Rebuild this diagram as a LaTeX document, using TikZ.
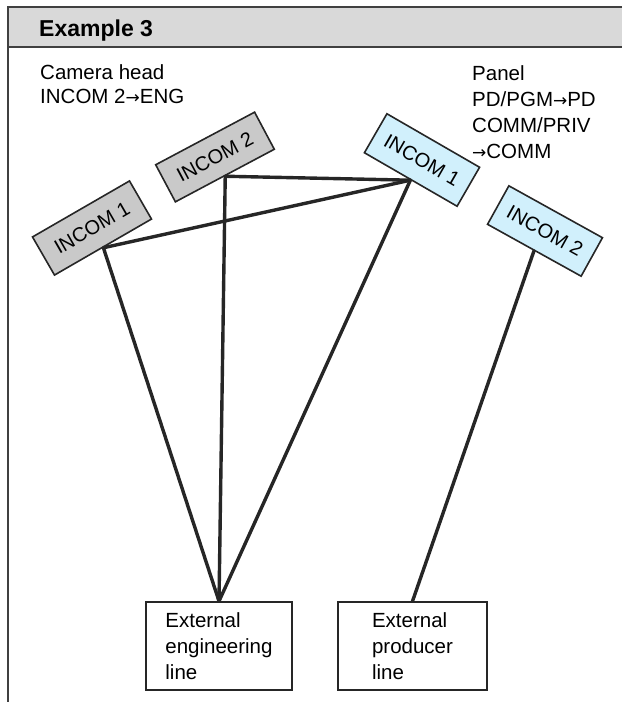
\documentclass[tikz,border=0pt]{standalone}
\usepackage{fontspec}
\setmainfont{Liberation Sans}
\newfontfamily\arrowfont{DejaVu Sans}
\newcommand{\toarrow}{{\arrowfont\fontsize{17}{20}\selectfont →}}
\begin{document}
\begin{tikzpicture}[x=1pt,y=-1pt,
  frameline/.style={draw=black!75, line width=1.8pt},
  incom/.style={draw=black!85, line width=1.6pt, minimum width=112pt,
    minimum height=44pt, inner sep=0pt, font=\fontsize{20}{22}\selectfont},
  camunit/.style={incom, fill=gray!42},
  panelunit/.style={incom, fill=cyan!18!white, minimum width=107pt, minimum height=45pt},
  extbox/.style={draw=black!85, line width=1.6pt, minimum width=146pt,
    minimum height=88pt, inner sep=0pt, align=left,
    font=\fontsize{20.5}{26}\selectfont},
  label/.style={anchor=base west, inner sep=0pt, font=\fontsize{20.5}{25}\selectfont},
  wire/.style={draw=black!85, line width=3.4pt, line cap=round, line join=round}
]
\useasboundingbox (0,0) rectangle (622,702);

% header band and frame
\fill[gray!30] (8,7) rectangle (622,47);
\draw[frameline] (622,7) -- (8,7) -- (8,702);
\draw[frameline] (8,47) -- (622,47);
\node[anchor=base west, inner sep=0pt, font=\bfseries\fontsize{23}{26}\selectfont]
  (title) at (39,36) {Example 3};

% notes
\node[label] (cam1) at (40,79) {Camera head};
\node[label] (cam2) at (40,103) {INCOM 2\toarrow ENG};
\node[label] (pan1) at (472,80) {Panel};
\node[label] (pan2) at (472,106) {PD/PGM\toarrow PD};
\node[label] (pan3) at (472,132) {COMM/PRIV};
\node[label] (pan4) at (472,158) {\toarrow COMM};

% intercom units
\node[camunit, rotate=30] (ci1) at (92,228) {INCOM 1};
\node[camunit, rotate=28, minimum height=42pt] (ci2) at (215,157) {INCOM 2};
\node[panelunit, rotate=-30] (pi1) at (422,160) {INCOM 1};
\node[panelunit, rotate=-29, minimum height=44pt] (pi2) at (545,231) {INCOM 2};

% external lines
\node[extbox] (eng) at (219,646) {External\\engineering\\line};
\node[extbox, minimum width=149pt] (prod) at (412.5,646) {External\\producer\\line};

% wiring
\draw[wire] (ci1.south) -- (eng.north);
\draw[wire] (ci1.south) -- (pi1.south);
\draw[wire] (ci2.south) -- (eng.north);
\draw[wire] (ci2.south) -- (pi1.south);
\draw[wire] (pi1.south) -- (eng.north);
\draw[wire] (pi2.south) -- (prod.north);
\end{tikzpicture}
\end{document}
